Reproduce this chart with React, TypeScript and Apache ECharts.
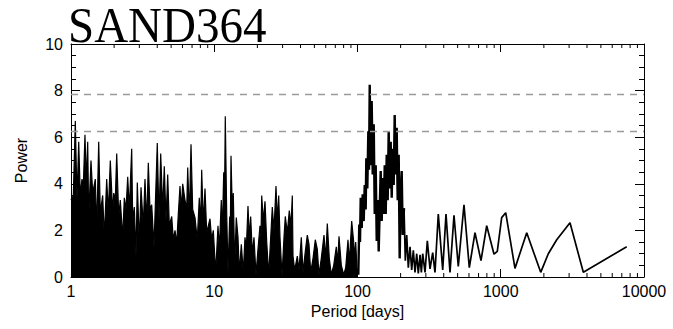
import React, { useEffect, useRef } from "react";
import * as echarts from "echarts";

// Dense part of the periodogram (1 – 100 days)
const periodsA = [
  1.0, 1.038, 1.072, 1.101, 1.132, 1.161, 1.193, 1.219, 1.252, 1.279, 1.308, 1.329, 1.379, 1.417, 1.478, 1.512,
  1.561, 1.602, 1.664, 1.708, 1.775, 1.821, 1.881, 1.955, 1.987, 2.038, 2.085, 2.153, 2.209, 2.296, 2.356, 2.421,
  2.488, 2.553, 2.653, 2.696, 2.767, 2.843, 2.903, 2.998, 3.081, 3.196, 3.285, 3.38, 3.465, 3.561, 3.659, 3.797,
  4.003, 4.114, 4.228, 4.367, 4.48, 4.605, 4.732, 4.856, 5.047, 5.179, 5.321, 5.469, 5.611, 5.766, 5.888, 6.022,
  6.249, 6.422, 6.527, 6.697, 6.883, 7.072, 7.338, 7.613, 7.863, 8.042, 8.172, 8.386, 8.618, 8.857, 9.339, 9.599,
  9.849, 10.23, 10.62, 10.85, 11.2, 11.38, 11.64, 11.75, 11.94, 12.21, 12.47, 12.82, 12.94, 13.09, 13.37, 13.58,
  13.89, 14.25, 14.65, 14.96, 15.45, 15.95, 16.39, 16.74, 17.2, 17.57, 17.96, 18.44, 18.94, 19.56, 20.2, 20.86,
  21.2, 21.44, 22.0, 22.61, 23.24, 23.99, 24.78, 25.42, 26.12, 26.98, 27.55, 28.18, 28.77, 29.71, 30.68, 31.33,
  32.36, 33.41, 34.34, 35.07, 35.46, 36.44, 38.0, 39.05, 40.52, 41.64, 43.21, 44.62, 45.86, 47.13, 48.92, 50.75,
  52.4, 53.85, 55.88, 58.36, 59.98, 61.55, 63.55, 65.63, 68.22, 71.12, 72.74, 74.28, 77.08, 80.12, 82.72, 85.83,
  87.64, 91.09, 94.08, 95.58, 97.14, 99.68,
];
const powerA = [
  3.3, 3.5, 6.7, 3.3, 5.8, 3.5, 4.2, 3.9, 6.1, 4.05, 5.8, 2.55, 5.0, 3.6, 4.2, 2.0,
  5.8, 2.75, 3.5, 1.7, 4.2, 2.75, 5.0, 2.75, 3.6, 3.3, 5.3, 2.6, 3.3, 1.7, 3.4, 2.9,
  4.3, 2.9, 5.5, 2.4, 3.0, 0.9, 4.05, 1.45, 3.85, 2.2, 4.2, 2.3, 4.9, 2.9, 3.1, 1.3,
  5.75, 2.45, 5.3, 2.9, 4.75, 2.45, 4.4, 2.2, 2.6, 1.6, 2.0, 1.45, 2.7, 3.9, 2.9, 4.0,
  3.3, 2.9, 4.7, 2.6, 5.7, 2.9, 2.55, 1.6, 3.4, 2.2, 4.6, 2.3, 3.8, 1.9, 2.5, 1.6,
  2.0, 0.2, 2.2, 1.2, 3.3, 1.8, 4.5, 2.2, 6.9, 2.8, 0.2, 2.6, 1.8, 5.2, 2.8, 3.6,
  0.5, 2.55, 1.7, 0.2, 1.4, 0.2, 1.7, 1.2, 3.05, 1.7, 2.6, 1.0, 1.7, 0.1, 1.2, 2.2,
  1.7, 3.5, 2.4, 3.25, 1.5, 0.1, 1.7, 3.0, 2.0, 3.9, 2.4, 3.5, 1.7, 0.05, 1.7, 2.6,
  1.9, 2.85, 2.2, 3.5, 0.9, 0.3, 0.9, 0.3, 1.7, 0.2, 1.1, 1.8, 1.4, 0.2, 0.8, 1.6,
  1.2, 0.1, 0.8, 1.8, 0.8, 2.3, 0.8, 0.1, 0.5, 1.3, 0.6, 1.75, 0.5, 0.1, 0.4, 1.6,
  0.6, 2.4, 1.5, 0.8, 1.5, 0.1,
];

// Main peak complex (100 – 210 days)
const periodsHump = [
  101.3, 102.9, 104.1, 105.3, 107.0, 108.7, 110.5, 112.3, 114.1, 115.2, 117.1, 119.0, 120.3, 121.7, 123.6, 125.6,
  127.7, 129.8, 131.9, 134.0, 136.2, 138.4, 140.6, 142.9, 145.2, 147.6, 150.0, 152.4, 154.9, 157.4, 159.9, 162.5,
  165.1, 167.8, 170.5, 173.3, 176.1, 178.9, 181.8, 184.8, 187.7, 190.8, 193.9, 197.0, 200.2, 203.5, 206.8, 211.2,
];
const powerHump = [
  0.1, 2.25, 1.5, 3.4, 2.1, 3.55, 2.4, 3.95, 2.9, 5.1, 3.8, 6.25, 4.6, 8.25, 4.8, 7.55,
  4.4, 6.55, 2.7, 4.8, 1.55, 3.3, 1.1, 2.95, 4.55, 2.4, 4.25, 2.7, 4.8, 2.7, 5.25, 3.3,
  6.25, 3.8, 5.8, 3.4, 5.5, 3.95, 6.95, 4.4, 6.4, 3.3, 5.25, 0.8, 3.6, 4.55, 1.8, 2.95,
];

// Long-period tail (210 – 8000 days)
const periodsTail = [
  211.2, 215.7, 220.6, 226.3, 232.6, 239.0, 245.3, 252.0, 259.0, 265.7, 273.2, 279.0, 285.3, 296.0, 307.2, 320.8,
  335.0, 347.5, 366.5, 393.4, 414.8, 442.3, 471.6, 505.3, 553.8, 603.3, 661.0, 727.9, 797.9, 897.3, 946.0, 1015,
  1083, 1257, 1518, 1901, 2148, 2459, 3044, 3771, 7571,
];
const powerTail = [
  2.95, 0.7, 1.8, 0.4, 1.3, 0.3, 1.15, 0.2, 1.0, 0.15, 0.95, 0.2, 1.0, 0.2, 1.55, 0.35,
  1.05, 0.2, 2.7, 0.3, 2.7, 0.2, 2.65, 0.45, 3.1, 0.4, 1.9, 0.7, 2.2, 0.98, 1.1, 2.55,
  2.76, 0.37, 1.9, 0.2, 1.0, 1.6, 2.33, 0.2, 1.3,
];

const thresholds = [7.85, 6.25];
const xMinorTicks = [
  2, 3, 4, 5, 6, 7, 8, 9, 20, 30, 40, 50, 60, 70, 80, 90, 200, 300, 400, 500, 600, 700, 800, 900,
  2000, 3000, 4000, 5000, 6000, 7000, 8000, 9000,
];

const sans = '"Liberation Sans", Arial, Helvetica, sans-serif';

export default function App() {
  const ref = useRef<HTMLDivElement>(null);
  useEffect(() => {
    const chart = echarts.init(ref.current!, null, { renderer: "svg" });
    const dataA = periodsA.map((p, i) => [p, powerA[i]]);
    const dataHump = periodsHump.map((p, i) => [p, powerHump[i]]);
    const dataTail = periodsTail.map((p, i) => [p, powerTail[i]]);
    const axisLine = { show: true, onZero: false, lineStyle: { color: "#000", width: 1 } };
    const option: any = {
      animation: false,
      backgroundColor: "#fff",
      graphic: [
        {
          type: "text",
          x: 68,
          y: 25,
          scaleY: 1.08,
          silent: true,
          style: {
            text: "SAND364",
            x: 0,
            y: 0,
            verticalAlign: "middle",
            align: "left",
            font: 'normal 47px "Liberation Serif", "Times New Roman", serif',
            fill: "#000",
          },
        },
      ],
      grid: { left: 71, right: 29, top: 44, bottom: 52 },
      xAxis: [
        {
          type: "log",
          logBase: 10,
          min: 1,
          max: 10000,
          splitNumber: 4,
          position: "bottom",
          name: "Period [days]",
          nameLocation: "middle",
          nameGap: 21,
          nameTextStyle: { fontSize: 16, color: "#000", fontFamily: sans },
          axisLine,
          axisTick: { show: true, inside: true, length: 8, lineStyle: { color: "#000" } },
          axisLabel: {
            fontSize: 16,
            color: "#000",
            margin: 6,
            fontFamily: sans,
            formatter: (v: number) => String(Math.round(v)),
          },
          splitLine: { show: false },
        },
        {
          type: "log",
          logBase: 10,
          min: 1,
          max: 10000,
          splitNumber: 4,
          position: "top",
          axisLine,
          axisTick: { show: true, inside: true, length: 8, lineStyle: { color: "#000" } },
          axisLabel: { show: false },
          splitLine: { show: false },
        },
      ],
      yAxis: [
        {
          type: "value",
          min: 0,
          max: 10,
          interval: 2,
          position: "left",
          name: "Power",
          nameLocation: "middle",
          nameGap: 42,
          nameTextStyle: { fontSize: 16, color: "#000", fontFamily: sans },
          axisLine,
          axisTick: { show: true, inside: true, length: 9, lineStyle: { color: "#000" } },
          minorTick: { show: true, splitNumber: 4, length: 5, lineStyle: { color: "#000" } },
          axisLabel: { fontSize: 16, color: "#000", margin: 8, fontFamily: sans },
          splitLine: { show: false },
        },
        {
          type: "value",
          min: 0,
          max: 10,
          interval: 2,
          position: "right",
          axisLine,
          axisTick: { show: true, inside: true, length: 9, lineStyle: { color: "#000" } },
          minorTick: { show: true, splitNumber: 4, length: 5, lineStyle: { color: "#000" } },
          axisLabel: { show: false },
          splitLine: { show: false },
        },
      ],
      series: [
        {
          type: "line",
          xAxisIndex: 0,
          yAxisIndex: 0,
          data: dataA,
          showSymbol: false,
          symbol: "none",
          lineStyle: { color: "#000", width: 1.2 },
          areaStyle: { color: "#000", opacity: 1 },
          silent: true,
          markLine: {
            silent: true,
            symbol: ["none", "none"],
            label: { show: false },
            lineStyle: { color: "#9a9a9a", type: [7, 6], width: 1.3 },
            data: thresholds.map((t) => ({ yAxis: t })),
          },
        },
        {
          type: "line",
          xAxisIndex: 0,
          yAxisIndex: 0,
          data: dataHump,
          showSymbol: false,
          symbol: "none",
          lineStyle: { color: "#000", width: 2.4, join: "miter" },
          silent: true,
        },
        {
          type: "line",
          xAxisIndex: 0,
          yAxisIndex: 0,
          data: dataTail,
          showSymbol: false,
          symbol: "none",
          lineStyle: { color: "#000", width: 1.7 },
          silent: true,
        },
        {
          type: "custom",
          xAxisIndex: 0,
          yAxisIndex: 0,
          data: xMinorTicks.map((v) => [v, 0]),
          silent: true,
          clip: false,
          z: 10,
          renderItem: (_params: any, api: any) => {
            const v = api.value(0);
            const b = api.coord([v, 0]);
            const t = api.coord([v, 10]);
            return {
              type: "group",
              children: [
                { type: "line", shape: { x1: b[0], y1: b[1], x2: b[0], y2: b[1] - 4 }, style: { stroke: "#000", lineWidth: 1 } },
                { type: "line", shape: { x1: t[0], y1: t[1], x2: t[0], y2: t[1] + 4 }, style: { stroke: "#000", lineWidth: 1 } },
              ],
            };
          },
        },
      ],
    };
    chart.setOption(option);
    return () => chart.dispose();
  }, []);
  return (
    <div
      ref={ref}
      style={{ position: "fixed", left: 0, top: 0, width: 673, height: 329, background: "#fff" }}
    />
  );
}
